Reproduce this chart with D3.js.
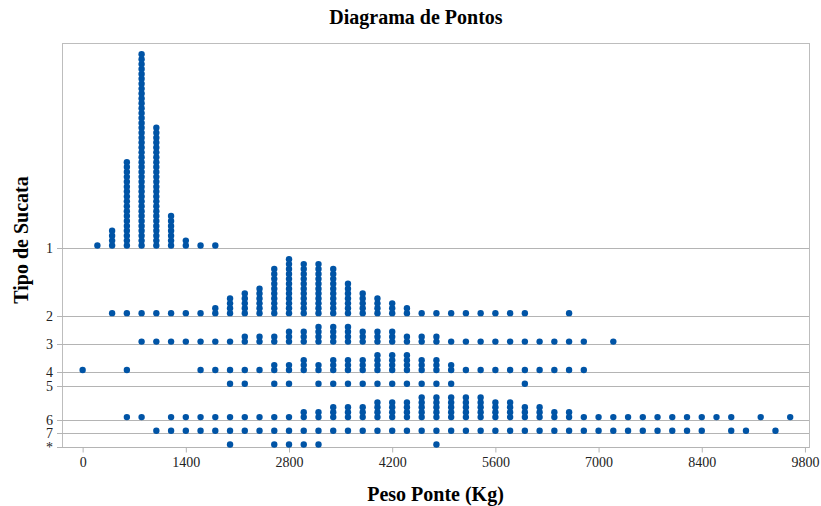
<!DOCTYPE html>
<html>
<head>
<meta charset="utf-8">
<script src="https://cdn.jsdelivr.net/npm/d3@7"></script>
<style>
  body { margin: 0; background: #fff; }
  svg { display: block; }
</style>
</head>
<body>
<div id="chart"></div>
<script>
// categories, top to bottom
const categories = ["1", "2", "3", "4", "5", "6", "7", "*"];

// [peso (kg), number of dots] per tipo de sucata
const tipo1 = [[200,1],[400,4],[600,18],[800,40],[1000,25],[1200,7],[1400,2],[1600,1],[1800,1]];
const tipo2 = [[400,1],[600,1],[800,1],[1000,1],[1200,1],[1400,1],[1600,1],[1800,2],[2000,4],[2200,5],
  [2400,6],[2600,10],[2800,12],[3000,11],[3200,11],[3400,10],[3600,7],[3800,5],[4000,4],[4200,3],
  [4400,2],[4600,1],[4800,1],[5000,1],[5200,1],[5400,1],[5600,1],[5800,1],[6000,1],[6600,1]];
const tipo3 = [[800,1],[1000,1],[1200,1],[1400,1],[1600,1],[1800,1],[2000,1],[2200,2],[2400,2],[2600,2],
  [2800,3],[3000,3],[3200,4],[3400,4],[3600,4],[3800,3],[4000,3],[4200,3],[4400,2],[4600,2],[4800,2],
  [5000,1],[5200,1],[5400,1],[5600,1],[5800,1],[6000,1],[6200,1],[6400,1],[6600,1],[6800,1],[7200,1]];
const tipo4 = [[0,1],[600,1],[1600,1],[1800,1],[2000,1],[2200,1],[2400,1],[2600,2],[2800,2],[3000,3],
  [3200,2],[3400,3],[3600,3],[3800,3],[4000,4],[4200,4],[4400,4],[4600,3],[4800,3],[5000,2],
  [5200,1],[5400,1],[5600,1],[5800,1],[6000,1],[6200,1],[6400,1],[6600,1],[6800,1]];
const tipo5 = [[2000,1],[2200,1],[2600,1],[2800,1],[3200,1],[3400,1],[3600,1],[3800,1],[4000,1],
  [4200,1],[4400,1],[4600,1],[4800,1],[5000,1],[6000,1]];
const tipo6 = [[600,1],[800,1],[1200,1],[1400,1],[1600,1],[1800,1],[2000,1],[2200,1],[2400,1],[2600,1],
  [2800,1],[3000,2],[3200,2],[3400,3],[3600,3],[3800,3],[4000,4],[4200,4],[4400,4],[4600,5],[4800,5],
  [5000,5],[5200,5],[5400,5],[5600,4],[5800,4],[6000,3],[6200,3],[6400,2],[6600,2],[6800,1],[7000,1],
  [7200,1],[7400,1],[7600,1],[7800,1],[8000,1],[8200,1],[8400,1],[8600,1],[8800,1],[9200,1],[9600,1]];
const tipo7 = [[1000,1],[1200,1],[1400,1],[1600,1],[1800,1],[2000,1],[2200,1],[2400,1],[2600,1],[2800,1],
  [3000,1],[3200,1],[3400,1],[3600,1],[3800,1],[4000,1],[4200,1],[4400,1],[4600,1],[4800,1],[5000,1],
  [5200,1],[5400,1],[5600,1],[5800,1],[6000,1],[6200,1],[6400,1],[6600,1],[6800,1],[7000,1],[7200,1],
  [7400,1],[7600,1],[7800,1],[8000,1],[8200,1],[8400,1],[8800,1],[9000,1],[9400,1]];
const tipoStar = [[2000,1],[2600,1],[2800,1],[3000,1],[3200,1],[4800,1]];

const xTicks = [0, 1400, 2800, 4200, 5600, 7000, 8400, 9800];

const groups = [tipo1, tipo2, tipo3, tipo4, tipo5, tipo6, tipo7, tipoStar];

const width = 821, height = 506;
const plot = { left: 62, right: 809, top: 43, bottom: 447 };
const bandPad = 1.8;   // extra room (in dot units) above each category's tallest stack
const serif = "'Liberation Serif', 'Times New Roman', serif";

const svg = d3.select("#chart").append("svg")
    .attr("width", width)
    .attr("height", height);

// each category gets a band of (max stack + pad) dot units, stacked from the bottom
let base = {};
let acc = 0;
for (let i = categories.length - 1; i >= 0; i--) {
    base[categories[i]] = acc;
    acc += d3.max(groups[i], d => d[1]) + bandPad;
}

const x = d3.scaleLinear().domain([-280, 9855]).range([plot.left, plot.right]);
const y = d3.scaleLinear().domain([0, acc]).range([plot.bottom, plot.top]);

// frame
svg.append("rect")
    .attr("x", plot.left + 0.5).attr("y", plot.top + 0.5)
    .attr("width", plot.right - plot.left).attr("height", plot.bottom - plot.top)
    .attr("fill", "none").attr("stroke", "#bdbdbd").attr("stroke-width", 1);

// baselines
svg.append("g").selectAll("line")
    .data(categories)
    .enter().append("line")
    .attr("x1", plot.left - 5).attr("x2", plot.right)
    .attr("y1", d => Math.round(y(base[d])) + 0.5)
    .attr("y2", d => Math.round(y(base[d])) + 0.5)
    .attr("stroke", "#b4b4b4").attr("stroke-width", 1);

// y labels
svg.append("g").selectAll("text")
    .data(categories)
    .enter().append("text")
    .attr("x", plot.left - 9)
    .attr("y", d => y(base[d]) + 5)
    .attr("text-anchor", "end")
    .style("font-family", serif)
    .style("font-size", "14px")
    .attr("fill", "#222")
    .text(d => d);

// x axis
const xAxis = svg.append("g")
    .attr("transform", `translate(0,${plot.bottom + 0.5})`)
    .call(d3.axisBottom(x).tickValues(xTicks).tickFormat(d3.format("d"))
        .tickSize(5).tickSizeOuter(0).tickPadding(5));
xAxis.select(".domain").remove();
xAxis.selectAll(".tick line").attr("stroke", "#b4b4b4");
xAxis.selectAll(".tick text")
    .style("font-family", serif)
    .style("font-size", "14px")
    .attr("fill", "#222");

// dots
const dots = [];
groups.forEach((g, i) => {
    g.forEach(([w, n]) => {
        for (let k = 0; k < n; k++) dots.push({ cat: categories[i], w: w, k: k });
    });
});

svg.append("g").selectAll("circle")
    .data(dots)
    .enter().append("circle")
    .attr("cx", d => x(d.w))
    .attr("cy", d => y(base[d.cat] + 0.5 + d.k))
    .attr("r", 3.2)
    .attr("fill", "#0054a6");

// titles
svg.append("text")
    .attr("x", 416).attr("y", 24)
    .attr("text-anchor", "middle")
    .style("font-family", serif)
    .style("font-size", "20px").style("font-weight", "bold")
    .text("Diagrama de Pontos");

svg.append("text")
    .attr("x", (plot.left + plot.right) / 2).attr("y", 501)
    .attr("text-anchor", "middle")
    .style("font-family", serif)
    .style("font-size", "20px").style("font-weight", "bold")
    .text("Peso Ponte (Kg)");

svg.append("text")
    .attr("transform", `translate(28,${240}) rotate(-90)`)
    .attr("text-anchor", "middle")
    .style("font-family", serif)
    .style("font-size", "20px").style("font-weight", "bold")
    .text("Tipo de Sucata");
</script>
</body>
</html>
